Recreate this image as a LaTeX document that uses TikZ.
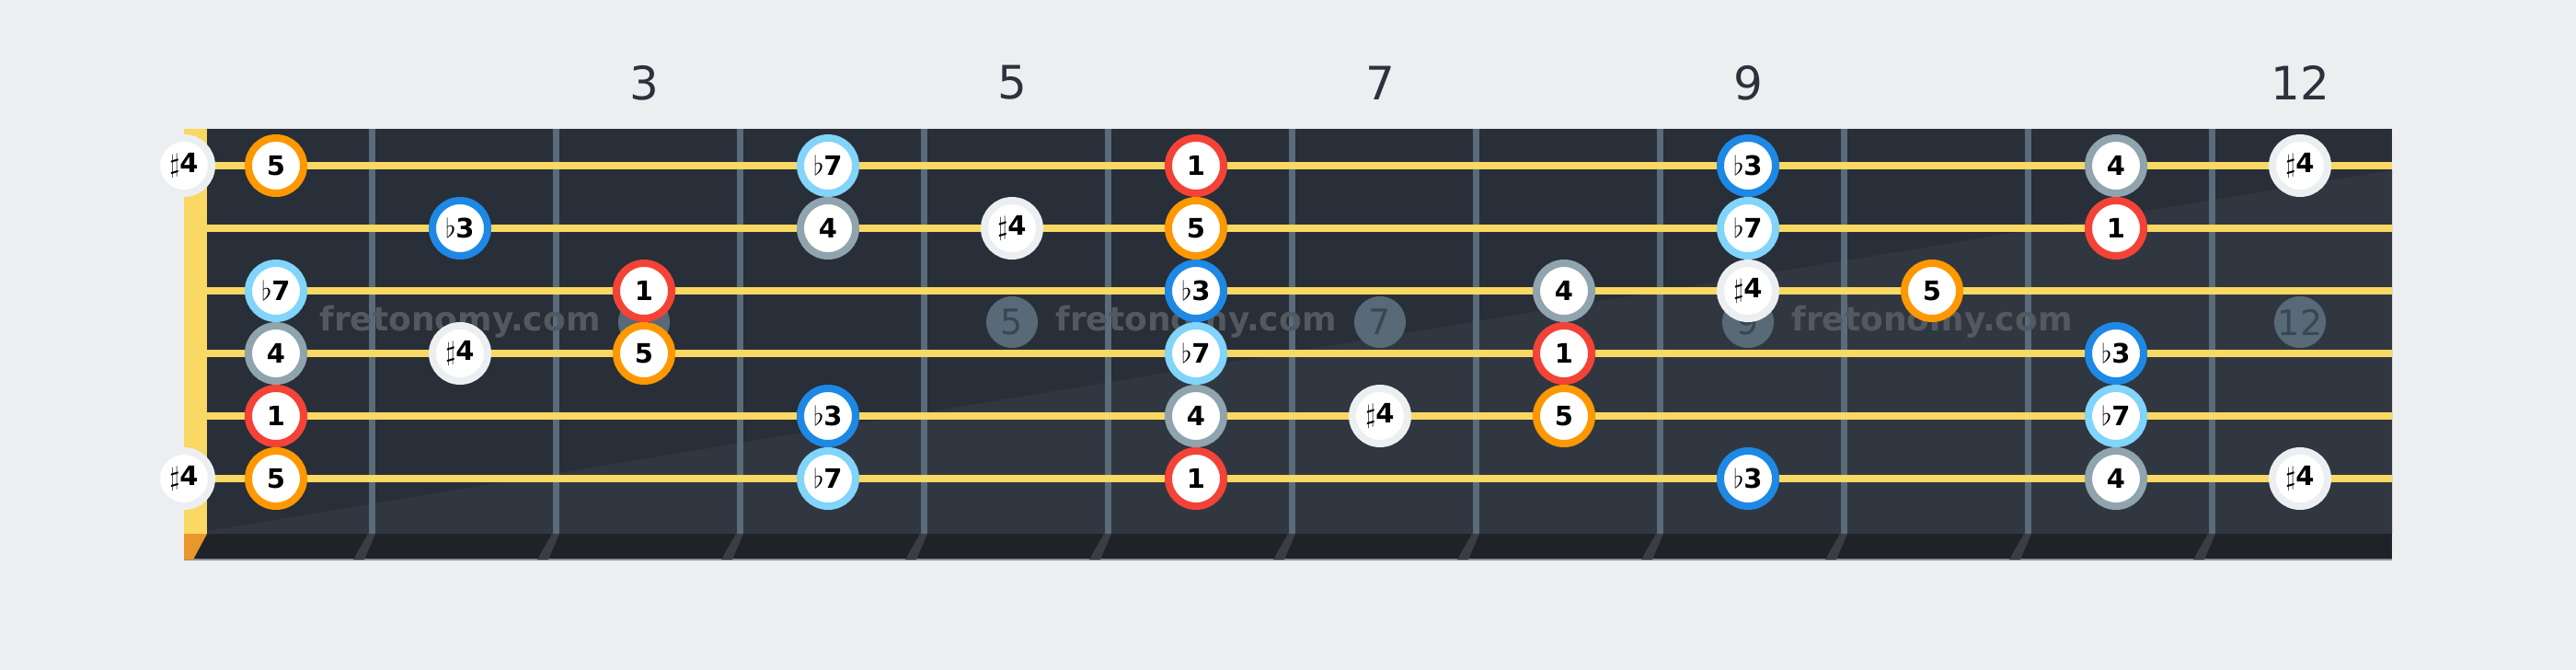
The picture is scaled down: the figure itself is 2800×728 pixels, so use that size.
\RequirePackage{fix-cm}
\documentclass[tikz,border=0pt]{standalone}
\usepackage{fontspec}
\setmainfont{DejaVu Sans}
\definecolor{bgc}{HTML}{EDEEF0}
\definecolor{boardc}{HTML}{282F38}
\definecolor{boardlc}{HTML}{303741}
\definecolor{stripc}{HTML}{1F2327}
\definecolor{fretc}{HTML}{5A6B7A}
\definecolor{fretsh}{HTML}{3A3E44}
\definecolor{stringc}{HTML}{F9D863}
\definecolor{nutorange}{HTML}{E8972C}
\definecolor{markc}{HTML}{586977}
\definecolor{marktxt}{HTML}{3B4652}
\definecolor{wmc}{HTML}{53595F}
\definecolor{labc}{HTML}{2B323B}
\definecolor{cR}{HTML}{F44336}
\definecolor{cB}{HTML}{1E88E5}
\definecolor{cG}{HTML}{90A4AE}
\definecolor{cW}{HTML}{ECEFF1}
\definecolor{cO}{HTML}{FF9800}
\definecolor{cL}{HTML}{81D4FA}
\newcommand{\fl}{{\mdseries$\flat$}}
\newcommand{\sh}{{\mdseries$\sharp$}}
\begin{document}
\begin{tikzpicture}[x=1pt,y=-1pt,
  note/.style={circle,draw=#1,line width=8pt,fill=white,minimum size=60pt,inner sep=0pt,
    font=\fontsize{29}{29}\selectfont\bfseries,text=black},
  fretwire/.style={draw=fretc,line width=7pt},
  gstring/.style={draw=stringc,line width=8pt},
  marker/.style={circle,fill=markc,minimum size=56pt,inner sep=0pt,text=marktxt,
    font=\fontsize{38}{38}\selectfont},
  wmark/.style={text=wmc,font=\fontsize{36}{36}\selectfont\bfseries,inner sep=0pt},
  fretlab/.style={text=labc,font=\fontsize{50}{50}\selectfont,inner sep=0pt}]
\useasboundingbox (0,0) rectangle (2800,728);
\fill[bgc] (0,0) rectangle (2800,728);
% board
\fill[boardc] (200,140) rectangle (2600,608);
\fill[boardlc] (225,577) -- (2600,185) -- (2600,580) -- (225,580) -- cycle;
\fill[stripc] (200,580) rectangle (2600,608);
\draw[draw=fretc!70!bgc,line width=1.5pt] (200,608) -- (2600,608);
\fill[stringc] (200,140) rectangle (225,580);
\fill[nutorange] (200,580) -- (225,580) -- (210,608) -- (200,608) -- cycle;
\foreach \k in {1,...,11}{
  \pgfmathsetmacro{\fx}{404+200*(\k-1)}
  \fill[fretsh] (\fx-4,580) -- (\fx+4,580) -- (\fx-8,608) -- (\fx-20,608) -- cycle;
  \draw[fretwire] (\fx,140) -- (\fx,580);
}
% markers
\node[marker] (m3) at (700,350) {3};
\node[marker] (m5) at (1100,350) {5};
\node[marker] (m7) at (1500,350) {7};
\node[marker] (m9) at (1900,350) {9};
\node[marker] (m12) at (2500,350) {12};
% watermarks
\node[wmark] (w1) at (500,350) {fretonomy.com};
\node[wmark] (w2) at (1300,350) {fretonomy.com};
\node[wmark] (w3) at (2100,350) {fretonomy.com};
% strings
\foreach \s in {1,...,6}{
  \pgfmathsetmacro{\sy}{180+68*(\s-1)}
  \draw[gstring] (225,\sy) -- (2600,\sy);
}
% fret labels
\node[fretlab] (l3) at (700,90) {3};
\node[fretlab] (l5) at (1100,90) {5};
\node[fretlab] (l7) at (1500,90) {7};
\node[fretlab] (l9) at (1900,90) {9};
\node[fretlab] (l12) at (2500,90) {12};
% notes: string 1
\node[note=cW] (n1f0) at (200,180) {\sh4};
\node[note=cO] (n1f1) at (300,180) {5};
\node[note=cL] (n1f4) at (900,180) {\fl7};
\node[note=cR] (n1f6) at (1300,180) {1};
\node[note=cB] (n1f9) at (1900,180) {\fl3};
\node[note=cG] (n1f11) at (2300,180) {4};
\node[note=cW] (n1f12) at (2500,180) {\sh4};
% string 2
\node[note=cB] (n2f2) at (500,248) {\fl3};
\node[note=cG] (n2f4) at (900,248) {4};
\node[note=cW] (n2f5) at (1100,248) {\sh4};
\node[note=cO] (n2f6) at (1300,248) {5};
\node[note=cL] (n2f9) at (1900,248) {\fl7};
\node[note=cR] (n2f11) at (2300,248) {1};
% string 3
\node[note=cL] (n3f1) at (300,316) {\fl7};
\node[note=cR] (n3f3) at (700,316) {1};
\node[note=cB] (n3f6) at (1300,316) {\fl3};
\node[note=cG] (n3f8) at (1700,316) {4};
\node[note=cW] (n3f9) at (1900,316) {\sh4};
\node[note=cO] (n3f10) at (2100,316) {5};
% string 4
\node[note=cG] (n4f1) at (300,384) {4};
\node[note=cW] (n4f2) at (500,384) {\sh4};
\node[note=cO] (n4f3) at (700,384) {5};
\node[note=cL] (n4f6) at (1300,384) {\fl7};
\node[note=cR] (n4f8) at (1700,384) {1};
\node[note=cB] (n4f11) at (2300,384) {\fl3};
% string 5
\node[note=cR] (n5f1) at (300,452) {1};
\node[note=cB] (n5f4) at (900,452) {\fl3};
\node[note=cG] (n5f6) at (1300,452) {4};
\node[note=cW] (n5f7) at (1500,452) {\sh4};
\node[note=cO] (n5f8) at (1700,452) {5};
\node[note=cL] (n5f11) at (2300,452) {\fl7};
% string 6
\node[note=cW] (n6f0) at (200,520) {\sh4};
\node[note=cO] (n6f1) at (300,520) {5};
\node[note=cL] (n6f4) at (900,520) {\fl7};
\node[note=cR] (n6f6) at (1300,520) {1};
\node[note=cB] (n6f9) at (1900,520) {\fl3};
\node[note=cG] (n6f11) at (2300,520) {4};
\node[note=cW] (n6f12) at (2500,520) {\sh4};
\end{tikzpicture}
\end{document}
